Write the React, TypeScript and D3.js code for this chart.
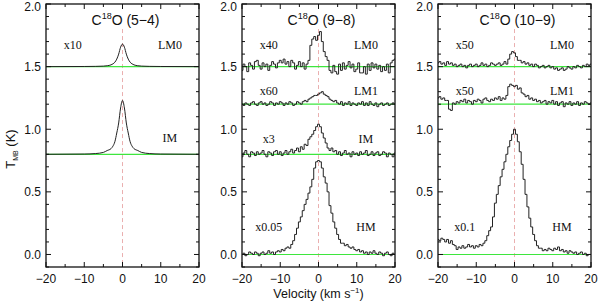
import React from "react";
import * as d3 from "d3";

// channel grid of the observed (9-8) and (10-9) spectra
const V_START = -20;
const CHANNEL = 0.5;

// (5-4): smooth model profiles, sampled on a sparse velocity grid
const smoothVel = [-20, -10, -7, -5, -4, -3, -2.5, -2, -1.5, -1, -0.5, 0, 0.5, 1, 1.5, 2, 2.5, 3, 4, 5, 7, 10, 20];
const lm0_54 = [0, 0.001, 0.002, 0.004, 0.007, 0.014, 0.022, 0.035, 0.06, 0.1, 0.155, 0.18, 0.155, 0.1, 0.06, 0.035, 0.022, 0.014, 0.007, 0.004, 0.002, 0.001, 0];
const im_54 = [0, 0.002, 0.006, 0.015, 0.03, 0.045, 0.065, 0.1, 0.17, 0.25, 0.37, 0.43, 0.37, 0.25, 0.17, 0.1, 0.065, 0.045, 0.03, 0.015, 0.006, 0.002, 0];

// (9-8), scaled values above each baseline
const lm0_98 = [
  -0.03, 0.02, 0.0, -0.04, 0.03, 0.01, -0.02, 0.04, 0.05, 0.01,
  -0.02, 0.03, 0.0, 0.02, -0.03, 0.01, 0.04, 0.02, -0.01, 0.03,
  0.05, 0.03, 0.06, 0.02, 0.04, 0.0, 0.05, 0.03, -0.02, 0.01,
  0.04, 0.0, 0.03, -0.02, 0.02, 0.05, 0.17, 0.22, 0.24, 0.21,
  0.25, 0.28, 0.2, 0.12, 0.08, 0.05, -0.03, -0.05, 0.01, -0.04,
  -0.06, 0.02, -0.03, 0.03, -0.02, 0.01, 0.04, -0.01, 0.02, -0.04,
  -0.02, 0.03, -0.05, -0.05, 0.0, -0.06, 0.02, -0.03, 0.03, -0.01,
  0.02, -0.02, 0.01, -0.04, 0.0, -0.03, 0.02, -0.05, 0.03, 0.05,
  0.06,
];
const lm1_98 = [
  0.0, -0.01, 0.01, 0.0, -0.01, 0.01, 0.02, 0.0, -0.01, 0.01,
  0.02, 0.0, 0.01, -0.01, 0.0, 0.02, 0.01, -0.01, 0.01, 0.0,
  0.02, 0.01, -0.01, 0.01, 0.0, 0.02, 0.01, -0.01, 0.0, 0.02,
  0.01, 0.0, 0.02, 0.03, 0.02, 0.04, 0.05, 0.06, 0.07, 0.07,
  0.08, 0.09, 0.1, 0.08, 0.07, 0.06, 0.04, 0.03, 0.02, 0.03,
  0.01, 0.0, 0.02, -0.01, 0.01, 0.0, 0.02, -0.01, 0.01, 0.0,
  -0.01, 0.01, 0.0, 0.02, -0.01, 0.01, -0.01, 0.02, 0.0, -0.01,
  0.01, -0.02, 0.0, 0.01, -0.01, 0.0, 0.01, -0.01, 0.0, 0.01,
  0.0,
];
const im_98 = [
  -0.02, 0.01, 0.03, 0.0, -0.02, 0.02, 0.01, -0.01, 0.02, 0.0,
  0.01, 0.03, 0.0, -0.02, 0.02, 0.01, -0.01, 0.02, 0.03, 0.0,
  0.02, -0.01, 0.01, 0.03, 0.0, 0.02, 0.04, 0.01, 0.03, 0.05,
  0.02, 0.06, 0.04, 0.08, 0.07, 0.12, 0.14, 0.16, 0.19, 0.22,
  0.24, 0.22, 0.17, 0.13, 0.09, 0.05, 0.03, 0.05, 0.02, 0.03,
  0.0, 0.02, -0.01, 0.01, 0.03, 0.0, 0.01, -0.02, 0.02, 0.0,
  0.01, -0.01, 0.02, 0.0, 0.01, 0.03, -0.01, 0.0, 0.02, -0.01,
  0.01, 0.02, -0.01, 0.0, 0.02, 0.01, -0.02, 0.01, 0.0, -0.02,
  0.01,
];
const hm_98 = [
  0.0, 0.01, -0.01, 0.0, 0.02, 0.01, 0.0, 0.02, 0.01, -0.01,
  0.01, 0.02, 0.0, 0.01, 0.03, 0.01, 0.02, 0.0, 0.02, 0.03,
  0.02, 0.04, 0.03, 0.05, 0.06, 0.05, 0.08, 0.11, 0.16, 0.21,
  0.26, 0.3, 0.35, 0.4, 0.44, 0.49, 0.54, 0.6, 0.69, 0.74,
  0.75, 0.74, 0.69, 0.62, 0.57, 0.5, 0.39, 0.33, 0.26, 0.21,
  0.16, 0.12, 0.09, 0.09, 0.07, 0.08, 0.06, 0.05, 0.06, 0.04,
  0.03, 0.04, 0.02, 0.03, 0.01, 0.02, 0.0, 0.02, 0.01, 0.03,
  0.01, 0.0, 0.02, 0.01, -0.01, 0.01, 0.02, 0.0, -0.01, 0.01,
  0.0,
];

// (10-9)
const lm0_109 = [
  0.03, 0.04, 0.02, 0.03, 0.01, 0.04, 0.02, 0.03, 0.01, 0.02,
  0.0, 0.01, 0.02, 0.0, 0.01, -0.01, 0.01, 0.02, 0.0, 0.01,
  0.02, 0.0, 0.01, 0.03, 0.01, 0.02, 0.0, 0.01, 0.03, 0.02,
  0.01, 0.02, 0.03, 0.01, 0.02, 0.04, 0.02, 0.06, 0.1, 0.12,
  0.11, 0.08, 0.05, 0.05, 0.03, 0.04, 0.02, 0.03, 0.01, 0.02,
  0.0, 0.02, 0.01, -0.01, 0.0, 0.01, -0.01, 0.0, 0.01, -0.01,
  0.0, -0.02, -0.01, -0.03, -0.02, -0.01, -0.03, -0.02, 0.0, -0.01,
  -0.02, 0.0, -0.01, 0.01, 0.0, -0.01, 0.01, 0.0, 0.02, 0.01,
  0.02,
];
const lm1_109 = [
  0.05, 0.06, 0.04, 0.05, 0.03, 0.03, -0.04, -0.05, 0.01, 0.0,
  0.02, 0.01, 0.03, 0.02, 0.04, 0.01, 0.03, 0.02, 0.0, 0.03,
  0.02, 0.04, 0.03, 0.01, 0.04, 0.05, 0.03, 0.02, 0.04, 0.03,
  0.05, 0.04, 0.06, 0.03, 0.05, 0.04, 0.07, 0.14, 0.16, 0.15,
  0.14, 0.15, 0.12, 0.13, 0.09, 0.08, 0.06, 0.07, 0.04, 0.05,
  0.03, 0.04, 0.02, 0.03, 0.01, 0.02, 0.03, 0.0, 0.02, 0.01,
  0.03, 0.0, 0.02, -0.01, 0.01, 0.02, -0.02, 0.01, 0.0, 0.02,
  -0.01, 0.01, 0.0, 0.02, -0.01, 0.01, 0.0, 0.02, 0.01, 0.0,
  0.01,
];
const hm_109 = [
  0.12, 0.11, 0.13, 0.12, 0.1, 0.12, 0.09, 0.11, 0.08, 0.07,
  0.04, 0.06, 0.05, 0.07, 0.05, 0.06, 0.08, 0.06, 0.07, 0.05,
  0.07, 0.06, 0.08, 0.07, 0.09, 0.11, 0.15, 0.19, 0.22, 0.3,
  0.41, 0.48, 0.55, 0.62, 0.68, 0.74, 0.8, 0.86, 0.91, 0.96,
  1.0, 0.96, 0.9, 0.82, 0.72, 0.6, 0.48, 0.38, 0.29, 0.22,
  0.16, 0.11, 0.07, 0.05, 0.05, 0.03, 0.04, 0.03, 0.05, 0.04,
  0.03, 0.05, 0.04, 0.06, 0.03, 0.04, 0.02, 0.03, 0.01, 0.03,
  0.02, 0.01, 0.02, 0.0, 0.01, 0.02, 0.0, 0.01, -0.01, 0.0,
  0.0,
];

const xTicks = [-20, -15, -10, -5, 0, 5, 10, 15, 20];
const xTickLabels = [-20, -10, 0, 10, 20];
const yTickLabels = [0.0, 0.5, 1.0, 1.5, 2.0];

type Spectrum = { name: string; scale: string; offset: number; labelAt: number; values: number[] };

const panels: { transition: string; smooth: boolean; spectra: Spectrum[] }[] = [
  {
    transition: "(5\u22124)",
    smooth: true,
    spectra: [
      { name: "LM0", scale: "x10", offset: 1.5, labelAt: 1.64, values: lm0_54 },
      { name: "IM", scale: "", offset: 0.8, labelAt: 0.9, values: im_54 },
    ],
  },
  {
    transition: "(9\u22128)",
    smooth: false,
    spectra: [
      { name: "LM0", scale: "x40", offset: 1.5, labelAt: 1.64, values: lm0_98 },
      { name: "LM1", scale: "x60", offset: 1.2, labelAt: 1.27, values: lm1_98 },
      { name: "IM", scale: "x3", offset: 0.8, labelAt: 0.89, values: im_98 },
      { name: "HM", scale: "x0.05", offset: 0.0, labelAt: 0.19, values: hm_98 },
    ],
  },
  {
    transition: "(10\u22129)",
    smooth: false,
    spectra: [
      { name: "LM0", scale: "x50", offset: 1.5, labelAt: 1.64, values: lm0_109 },
      { name: "LM1", scale: "x50", offset: 1.2, labelAt: 1.27, values: lm1_109 },
      { name: "HM", scale: "x0.1", offset: 0.0, labelAt: 0.19, values: hm_109 },
    ],
  },
];

const W = 600,
  H = 303,
  left = 46,
  top = 4,
  bottom = 267,
  panelW = 153,
  gap = 43;

const sans = "'Liberation Sans', Arial, sans-serif";
const serif = "'Liberation Serif', 'Times New Roman', serif";
const fmtMinus = (d: number) => (d < 0 ? "\u2212" + Math.abs(d) : String(d));

function Panel({ index, panel, y }: { index: number; panel: (typeof panels)[number]; y: d3.ScaleLinear<number, number> }) {
  const x0 = left + index * (panelW + gap);
  const x = d3.scaleLinear().domain([-20, 20]).range([x0, x0 + panelW]);
  const clipId = `clip${index}`;

  const lines = panel.spectra.map((s, i) => {
    const pts: [number, number][] = panel.smooth
      ? s.values.map((v, j) => [smoothVel[j], v])
      : s.values.map((v, j) => [V_START + j * CHANNEL, v]);
    const gen = d3
      .line<[number, number]>()
      .x((d) => x(d[0]))
      .y((d) => y(d[1] + s.offset))
      .curve(panel.smooth ? d3.curveMonotoneX : d3.curveStep);
    return (
      <g key={i}>
        <line x1={x0} x2={x0 + panelW} y1={y(s.offset)} y2={y(s.offset)} stroke="#3ee63e" strokeWidth={1.2} />
        <path d={gen(pts) || ""} fill="none" stroke="#222" strokeWidth={1} />
      </g>
    );
  });

  const labels = panel.spectra.map((s, i) => (
    <g key={i} fontFamily={serif} fontSize={12} fill="#111" textAnchor="middle">
      {s.scale && <text x={x(-13)} y={y(s.labelAt)}>{s.scale}</text>}
      <text x={x(12.4)} y={y(s.labelAt)}>{s.name}</text>
    </g>
  ));

  const yMinor = d3.range(-1, 21).map((k) => k / 10);

  return (
    <g>
      <clipPath id={clipId}>
        <rect x={x0} y={top} width={panelW} height={bottom - top} />
      </clipPath>
      <line x1={x(0)} x2={x(0)} y1={y(1.8)} y2={bottom} stroke="#e49a9a" strokeWidth={0.8} strokeDasharray="4,3" />
      <g clipPath={`url(#${clipId})`}>{lines}</g>
      {labels}
      <text x={x(0) + 3} y={25} textAnchor="middle" fontFamily={sans} fontSize={14} fill="#111">
        C<tspan fontSize={9} dy={-6}>18</tspan>
        <tspan dy={6}>O {panel.transition}</tspan>
      </text>
      {/* frame */}
      <rect x={x0} y={top} width={panelW} height={bottom - top} fill="none" stroke="#111" strokeWidth={1.3} />
      {xTicks.map((t) => {
        const len = t % 10 === 0 ? 5 : 3;
        return (
          <g key={t} stroke="#111" strokeWidth={1}>
            <line x1={x(t)} x2={x(t)} y1={bottom} y2={bottom - len} />
            <line x1={x(t)} x2={x(t)} y1={top} y2={top + len} />
          </g>
        );
      })}
      {yMinor.map((t) => {
        const major = Math.abs(Math.round(t * 10) % 5) === 0;
        const len = major ? 5 : 3;
        return (
          <g key={t} stroke="#111" strokeWidth={1}>
            <line x1={x0} x2={x0 + len} y1={y(t)} y2={y(t)} />
            <line x1={x0 + panelW} x2={x0 + panelW - len} y1={y(t)} y2={y(t)} />
          </g>
        );
      })}
      {xTickLabels.map((t) => (
        <text key={t} x={x(t)} y={283} textAnchor="middle" fontFamily={sans} fontSize={12} fill="#111">
          {fmtMinus(t)}
        </text>
      ))}
      {yTickLabels.map((t) => (
        <text key={t} x={x0 - 5} y={Math.max(y(t) + 4.5, 10.5)} textAnchor="end" fontFamily={sans} fontSize={12} fill="#111">
          {t.toFixed(1)}
        </text>
      ))}
    </g>
  );
}

export default function App() {
  const y = d3.scaleLinear().domain([-0.1, 2.0]).range([bottom, top]);
  const midX = left + (panelW + gap) + panelW / 2;

  return (
    <svg width={W} height={H} style={{ position: "absolute", left: 0, top: 0, background: "#fff" }}>
      {panels.map((p, i) => (
        <Panel key={i} index={i} panel={p} y={y} />
      ))}
      <text x={midX} y={298} textAnchor="middle" fontFamily={sans} fontSize={12.5} fill="#111">
        Velocity (km s<tspan fontSize={8} dy={-5}>{"\u22121"}</tspan>
        <tspan dy={5}>)</tspan>
      </text>
      <text transform="translate(15,149) rotate(-90)" textAnchor="middle" fontFamily={sans} fontSize={13} fill="#111">
        T<tspan fontSize={7} dy={3}>MB</tspan>
        <tspan dy={-3}> (K)</tspan>
      </text>
    </svg>
  );
}
